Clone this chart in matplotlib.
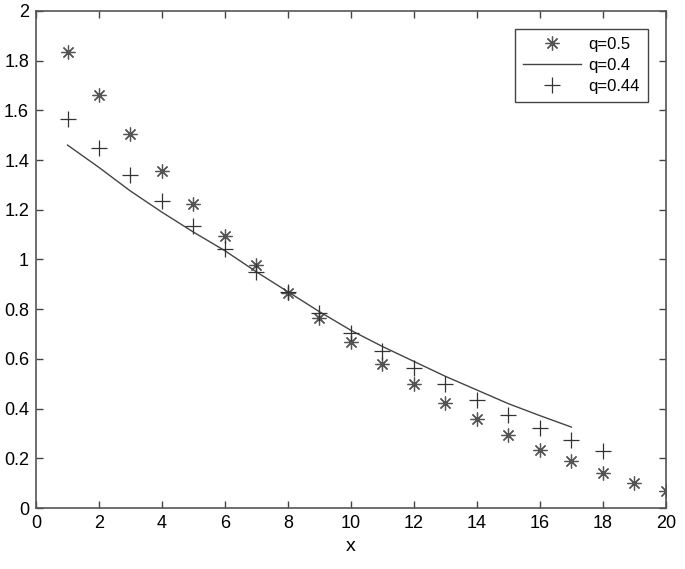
import numpy as np
import matplotlib.pyplot as plt

plt.rcParams['font.family'] = ['Liberation Sans', 'DejaVu Sans']

# q=0.5 (asterisks)
x_star = [1, 2, 3, 4, 5, 6, 7, 8, 9, 10, 11, 12, 13, 14, 15, 16, 17, 18, 19, 20]
y_star = [1.835, 1.66, 1.505, 1.356, 1.223, 1.094, 0.978, 0.865, 0.765, 0.668,
          0.58, 0.50, 0.423, 0.358, 0.294, 0.233, 0.189, 0.141, 0.10, 0.068]

# q=0.4 (line)
x_line = [1, 2, 3, 4, 5, 6, 7, 8, 9, 10, 11, 12, 13, 14, 15, 16, 17]
y_line = [1.46, 1.37, 1.275, 1.19, 1.11, 1.035, 0.95, 0.87, 0.79, 0.715,
          0.65, 0.59, 0.53, 0.475, 0.42, 0.372, 0.326]

# q=0.44 (plus)
x_plus = [1, 2, 3, 4, 5, 6, 7, 8, 9, 10, 11, 12, 13, 14, 15, 16, 17, 18]
y_plus = [1.565, 1.449, 1.34, 1.235, 1.135, 1.042, 0.95, 0.869, 0.785, 0.704,
          0.632, 0.563, 0.499, 0.435, 0.374, 0.322, 0.274, 0.229]

fig = plt.figure(figsize=(6.85, 5.69), dpi=100)
ax = fig.add_axes([0.0526, 0.107, 0.9194, 0.874])

col = '#555555'
ax.plot(x_star, y_star, linestyle='none', marker=(8, 2, 0), markersize=10,
        markeredgewidth=0.9, color=col, label='q=0.5')
ax.plot(x_line, y_line, '-', color='#444444', linewidth=1.0, label='q=0.4')
ax.plot(x_plus, y_plus, linestyle='none', marker='+', markersize=12,
        markeredgewidth=0.9, color='#333333', label='q=0.44')

ax.set_xlim(0, 20)
ax.set_ylim(0, 2)
ax.set_xticks(np.arange(0, 21, 2))
ax.set_yticks(np.arange(0, 2.01, 0.2))
ax.set_yticklabels(['0', '0.2', '0.4', '0.6', '0.8', '1', '1.2', '1.4', '1.6', '1.8', '2'])
ax.tick_params(direction='in', top=True, right=True, labelsize=13, length=5,
               color='#444444', width=1.0, pad=5)
for s in ax.spines.values():
    s.set_color('#555555')
    s.set_linewidth(1.2)
ax.set_xlabel('x', fontsize=14, labelpad=4)

leg = ax.legend(loc='upper right', bbox_to_anchor=(0.971, 0.964), borderaxespad=0,
                fontsize=12, fancybox=False, framealpha=1, edgecolor='#444444',
                handlelength=3.5, borderpad=0.5, labelspacing=0.35, handletextpad=0.4)
leg.get_frame().set_linewidth(1.0)

fig.savefig('out.png', dpi=100)
